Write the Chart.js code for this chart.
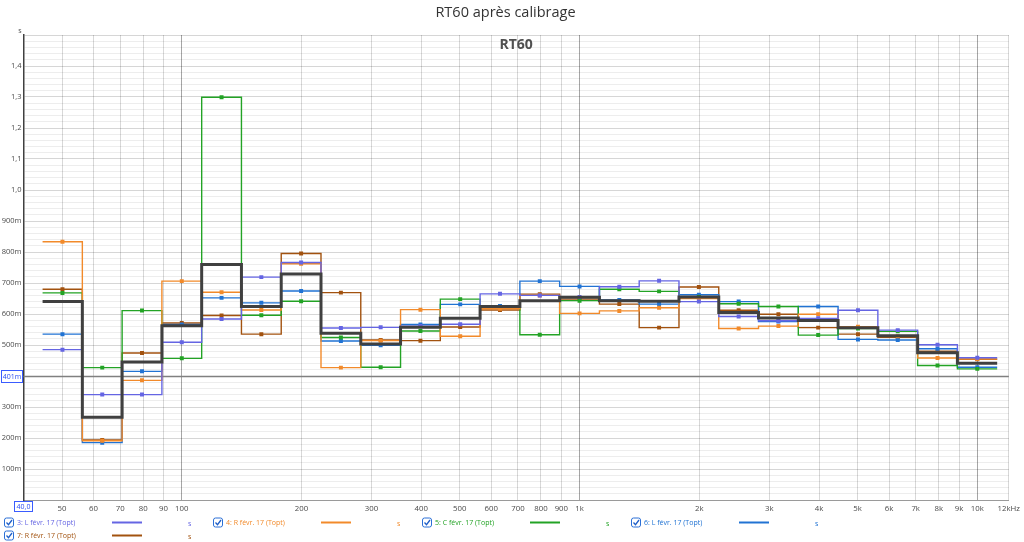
<!DOCTYPE html>
<html>
<head>
<meta charset="utf-8">
<script src="https://cdn.jsdelivr.net/npm/chart.js@4.4.0/dist/chart.umd.min.js"></script>
<style>
  html, body { margin: 0; padding: 0; background: #fff; }
  canvas { display: block; }
</style>
</head>
<body>
<canvas id="rt60" width="1024" height="542"></canvas>
<script>
// bandes de tiers d'octave (Hz)
var bandHz = [50, 63, 80, 100, 125, 160, 200, 250, 315, 400, 500, 630, 800, 1000, 1250, 1600, 2000, 2500, 3150, 4000, 5000, 6300, 8000, 10000];

// RT60 en secondes
var rtL3 = [0.485, 0.340, 0.340, 0.509, 0.584, 0.719, 0.766, 0.555, 0.557, 0.561, 0.567, 0.665, 0.660, 0.655, 0.688, 0.707, 0.640, 0.592, 0.578, 0.586, 0.612, 0.548, 0.501, 0.459];
var rtR4 = [0.833, 0.191, 0.386, 0.706, 0.670, 0.613, 0.762, 0.427, 0.514, 0.614, 0.528, 0.617, 0.660, 0.602, 0.610, 0.620, 0.650, 0.553, 0.561, 0.599, 0.559, 0.528, 0.458, 0.455];
var rtC5 = [0.668, 0.427, 0.611, 0.457, 1.299, 0.596, 0.641, 0.524, 0.428, 0.545, 0.648, 0.622, 0.533, 0.643, 0.680, 0.673, 0.655, 0.633, 0.624, 0.532, 0.553, 0.544, 0.434, 0.423];
var rtL6 = [0.535, 0.185, 0.415, 0.566, 0.652, 0.636, 0.674, 0.513, 0.499, 0.566, 0.631, 0.626, 0.706, 0.689, 0.645, 0.632, 0.662, 0.640, 0.576, 0.624, 0.518, 0.516, 0.488, 0.428];
var rtR7 = [0.680, 0.194, 0.474, 0.571, 0.595, 0.535, 0.795, 0.669, 0.516, 0.514, 0.558, 0.613, 0.664, 0.648, 0.632, 0.556, 0.687, 0.612, 0.599, 0.556, 0.535, 0.525, 0.480, 0.454];
var rtAvg = [0.640, 0.267, 0.445, 0.562, 0.760, 0.624, 0.729, 0.538, 0.503, 0.557, 0.586, 0.624, 0.643, 0.654, 0.643, 0.641, 0.655, 0.605, 0.587, 0.579, 0.556, 0.530, 0.475, 0.441];

var seriesLabels = ['3: L févr. 17 (Topt)', '4: R févr. 17 (Topt)', '5: C févr. 17 (Topt)', '6: L févr. 17 (Topt)', '7: R févr. 17 (Topt)'];

var xTickValues = [50, 60, 70, 80, 90, 100, 200, 300, 400, 500, 600, 700, 800, 900, 1000, 2000, 3000, 4000, 5000, 6000, 7000, 8000, 9000, 10000, 12000];
var xTickLabels = ['50', '60', '70', '80', '90', '100', '200', '300', '400', '500', '600', '700', '800', '900', '1k', '2k', '3k', '4k', '5k', '6k', '7k', '8k', '9k', '10k', '12kHz'];

var yTickValues = [0.1, 0.2, 0.3, 0.4, 0.5, 0.6, 0.7, 0.8, 0.9, 1.0, 1.1, 1.2, 1.3, 1.4];
var yTickLabels = ['100m', '200m', '300m', '400m', '500m', '600m', '700m', '800m', '900m', '1,0', '1,1', '1,2', '1,3', '1,4'];

var cursorY = 0.401;
var cursorX = '40,0';

// marches : bord bas, centre, bord haut de chaque bande
function steps(values) {
    var pts = [];
    bandHz.forEach(function (f, i) {
        var n = Math.round(10 * Math.log10(f / 1000));
        var fc = 1000 * Math.pow(10, n / 10);
        pts.push({x: fc * Math.pow(10, -0.05), y: values[i]});
        pts.push({x: fc, y: values[i]});
        pts.push({x: fc * Math.pow(10, 0.05), y: values[i]});
    });
    return pts;
}

function serie(label, values, color, width, order) {
    return {
        label: label,
        data: steps(values),
        borderColor: color,
        backgroundColor: color,
        pointBackgroundColor: color,
        borderWidth: width,
        pointStyle: 'rect',
        pointBorderWidth: 0,
        pointRadius: function (ctx) { return (width < 2 && ctx.index % 3 === 1) ? 2.8 : 0; },
        tension: 0,
        fill: false,
        order: order
    };
}

var colors = ['#6565e3', '#f28a2a', '#23a325', '#2173d3', '#a2520f'];

var datasets = [
    serie(seriesLabels[0], rtL3, colors[0], 1.4, 1),
    serie(seriesLabels[1], rtR4, colors[1], 1.4, 2),
    serie(seriesLabels[2], rtC5, colors[2], 1.4, 3),
    serie(seriesLabels[3], rtL6, colors[3], 1.4, 4),
    serie(seriesLabels[4], rtR7, colors[4], 1.4, 5),
    serie('moyenne', rtAvg, '#404040', 3, 0)
];

function near(a, b) { return Math.abs(a - b) < 1e-6; }

var smallFont = '7px "Open Sans", sans-serif';

var overlay = {
    id: 'overlay',
    beforeDatasetsDraw: function (chart) {
        var ctx = chart.ctx, a = chart.chartArea;
        var y = Math.round(chart.scales.y.getPixelForValue(cursorY)) + 0.5;
        ctx.save();
        ctx.strokeStyle = '#808080';
        ctx.lineWidth = 1.3;
        ctx.beginPath();
        ctx.moveTo(a.left, y);
        ctx.lineTo(a.right, y);
        ctx.stroke();
        ctx.restore();
    },
    afterDraw: function (chart) {
        var ctx = chart.ctx, a = chart.chartArea;
        ctx.save();
        ctx.textBaseline = 'middle';

        // unité
        ctx.fillStyle = '#505050';
        ctx.font = smallFont;
        ctx.textAlign = 'center';
        ctx.fillText('s', 20, 31);

        // titre du graphe
        ctx.font = 'bold 14px "Open Sans", sans-serif';
        ctx.fillStyle = '#505050';
        ctx.fillText('RT60', (a.left + a.right) / 2, 45);

        // étiquettes de curseur
        var y = Math.round(chart.scales.y.getPixelForValue(cursorY)) + 0.5;
        ctx.font = smallFont;
        ctx.fillStyle = '#fff';
        ctx.fillRect(1.5, y - 6, 21, 12);
        ctx.strokeStyle = '#3a5cff';
        ctx.lineWidth = 1;
        ctx.strokeRect(1.5, y - 6, 21, 12);
        ctx.fillStyle = '#2a4cf0';
        ctx.fillText(Math.round(cursorY * 1000) + 'm', 12, y);

        ctx.fillStyle = '#fff';
        ctx.fillRect(14.5, 501.5, 18, 10);
        ctx.strokeRect(14.5, 501.5, 18, 10);
        ctx.fillStyle = '#2a4cf0';
        ctx.fillText(cursorX, 23.5, 507);

        // légende
        ctx.textAlign = 'left';
        for (var i = 0; i < seriesLabels.length; i++) {
            var col = i % 4, row = Math.floor(i / 4);
            var x0 = 4 + col * 209;
            var yc = 522.5 + row * 13;
            var c = colors[i];

            ctx.fillStyle = '#fff';
            ctx.strokeStyle = '#2a6fd6';
            ctx.lineWidth = 1;
            ctx.beginPath();
            ctx.roundRect(x0 + 0.5, yc - 4.5, 9, 9, 2);
            ctx.fill();
            ctx.stroke();
            ctx.strokeStyle = '#1f5fc8';
            ctx.lineWidth = 1.3;
            ctx.beginPath();
            ctx.moveTo(x0 + 2.5, yc);
            ctx.lineTo(x0 + 4.5, yc + 2.2);
            ctx.lineTo(x0 + 8, yc - 2.5);
            ctx.stroke();

            ctx.font = smallFont;
            ctx.fillStyle = c;
            ctx.fillText(seriesLabels[i], x0 + 13, yc);

            ctx.strokeStyle = c;
            ctx.lineWidth = 2;
            ctx.beginPath();
            ctx.moveTo(x0 + 108, yc);
            ctx.lineTo(x0 + 138, yc);
            ctx.stroke();

            ctx.fillText('s', x0 + 184, yc + 1);
        }
        ctx.restore();
    }
};

Chart.defaults.font.family = '"Open Sans", "Noto Sans", sans-serif';

new Chart(document.getElementById('rt60').getContext('2d'), {
    type: 'line',
    data: { datasets: datasets },
    options: {
        responsive: false,
        animation: false,
        devicePixelRatio: 1,
        layout: { padding: { left: 0, right: 13, top: 0, bottom: 0 } },
        plugins: {
            legend: { display: false },
            tooltip: { enabled: false },
            title: {
                display: true,
                text: 'RT60 après calibrage',
                color: '#333',
                font: { size: 14.5, weight: 'normal' },
                padding: { top: 4, bottom: 13.6 }
            }
        },
        scales: {
            x: {
                type: 'logarithmic',
                min: 40,
                max: 12000,
                afterBuildTicks: function (scale) {
                    scale.ticks = xTickValues.map(function (v) { return {value: v}; });
                },
                afterFit: function (scale) { scale.height = 42; },
                grid: {
                    drawTicks: false,
                    color: function (ctx) {
                        var v = ctx.tick && ctx.tick.value;
                        return (v === 100 || v === 1000 || v === 10000) ? '#a6a6a6' : '#d8d8d8';
                    }
                },
                border: { color: '#9a9a9a' },
                ticks: {
                    autoSkip: false,
                    maxRotation: 0,
                    padding: 4,
                    color: '#4a4a4a',
                    font: { size: 7.8 },
                    callback: function (val, index) { return xTickLabels[index]; }
                }
            },
            y: {
                type: 'linear',
                min: 0,
                max: 1.5,
                afterBuildTicks: function (scale) {
                    var t = [];
                    for (var i = 0; i <= 75; i++) t.push({value: i / 50});
                    scale.ticks = t;
                },
                afterFit: function (scale) { scale.width = 23.5; },
                grid: {
                    drawTicks: false,
                    color: function (ctx) {
                        var v = ctx.tick ? ctx.tick.value : 0;
                        return near(Math.round(v * 10), v * 10) ? 'rgba(0,0,0,0.16)' : 'rgba(0,0,0,0.07)';
                    }
                },
                border: { color: '#404040', width: 1.5 },
                ticks: {
                    autoSkip: false,
                    padding: 2,
                    color: '#4a4a4a',
                    font: { size: 7.5 },
                    callback: function (val) {
                        for (var i = 0; i < yTickValues.length; i++) {
                            if (near(yTickValues[i], val)) return yTickLabels[i];
                        }
                        return '';
                    }
                }
            }
        }
    },
    plugins: [overlay]
});
</script>
</body>
</html>
